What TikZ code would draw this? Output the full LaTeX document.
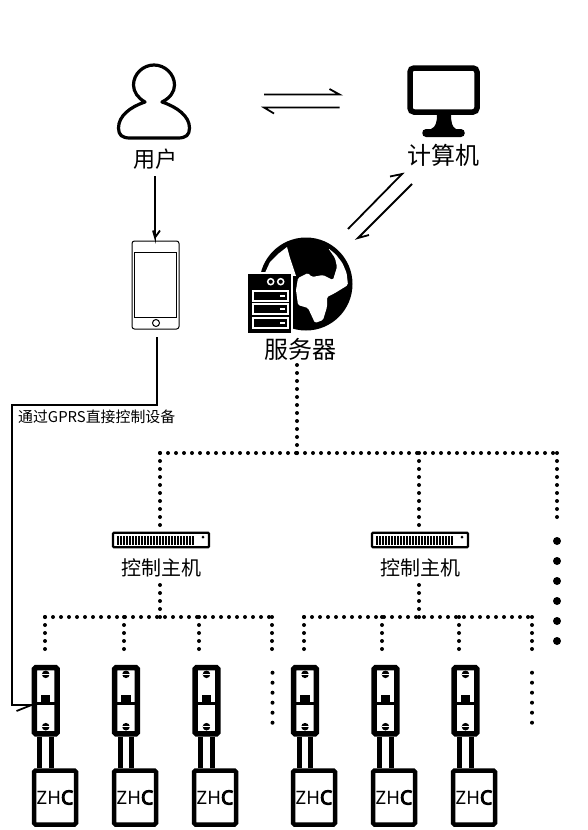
\documentclass[tikz,border=0pt]{standalone}
\usepackage{fontspec}
\setmainfont{Noto Sans CJK SC}
\newfontfamily\zhcfont{Noto Sans}
\newfontfamily\zhcbold[FakeBold=5]{Noto Sans}
\tikzset{
  lbl/.style={inner sep=0pt,font=\fontsize{#1}{#1}\selectfont},
  dots/.style={line width=4pt,line cap=round,dash pattern=on 0pt off 8pt},
  sparse/.style={line width=4pt,line cap=round,dash pattern=on 0pt off 10pt},
  link/.style={line width=1.8pt,black},
  breaker/.style={draw,line width=5.5pt,rounded corners=1.5pt,minimum width=22.8pt,minimum height=66.2pt,inner sep=0pt},
  zhcbox/.style={draw,line width=4.5pt,rounded corners=1.5pt,minimum width=42pt,minimum height=54pt,inner sep=0pt,font=\zhcfont\fontsize{18.5}{18.5}\selectfont},
  wire/.style={line width=5pt},
  chassis/.style={draw,line width=2.4pt,rounded corners=1pt,minimum width=96pt,minimum height=14.5pt,inner sep=0pt},
}
\newcommand{\unitat}[3]{%
  \node[breaker] (br#3) at (#1,700.8) {};
  \node[zhcbox] (zh#3) at (#2,797.5) {ZH{\zhcbold\fontsize{19.5}{19.5}\selectfont C}};
  \draw[wire] ([xshift=-5.8pt]br#3.south) -- ([xshift=-5.8pt]br#3.south |- zh#3.north);
  \draw[wire] ([xshift=5.8pt]br#3.south) -- ([xshift=5.8pt]br#3.south |- zh#3.north);
  \fill (#1,674.3) circle[radius=3.8pt];
  \fill (#1,726.7) circle[radius=3.8pt];
  \fill[white] (#1-4,673.9) rectangle (#1+4,674.8);
  \fill[white] (#1-4,726.3) rectangle (#1+4,727.2);
  \fill (#1-4.6,695) rectangle (#1+4.6,702.5);
  \fill (#1-9,702) rectangle (#1+9,705);
}
\newcommand{\hostat}[2]{%
  \node[chassis] (host#2) at (#1,540) {};
  \foreach \k in {0,...,25} {\fill (#1-44.5+\k*3,535.5) rectangle ++(2.1,9);}
  \fill (#1+42,537) circle[radius=1.5pt];
  \node[lbl=20] (hostlbl#2) at (#1,568) {控制主机};
}
\begin{document}
\begin{tikzpicture}[x=1pt,y=-1pt]
\useasboundingbox (0,0) rectangle (587,830);
\fill[white] (0,0) rectangle (587,830);

% user
\draw[line width=3.2pt,line join=round] (145,102) .. controls (130,107) and (118.5,116) .. (118.5,128)
  .. controls (118.5,135) and (122,138) .. (130,138) -- (178,138)
  .. controls (186,138) and (189.5,135) .. (189.5,128)
  .. controls (189.5,116) and (177,107) .. (162,102)
  .. controls (170,98) and (174.5,92) .. (174.5,85)
  .. controls (174.5,74) and (165,65) .. (154,65)
  .. controls (143,65) and (133.5,74) .. (133.5,85)
  .. controls (133.5,92) and (138,98) .. (145,102) -- cycle;
\node[lbl=22] (userlbl) at (155,159) {用户};

% monitor
\draw[line width=5.5pt,rounded corners=4pt] (410,68) rectangle (477,112);
\fill (437,114) -- (451,114) .. controls (451,122) and (452,127) .. (456,129) -- (461,129)
  .. controls (466,129) and (466,137) .. (461,137) -- (426,137)
  .. controls (421,137) and (421,129) .. (426,129) -- (431,129)
  .. controls (436,127) and (437,122) .. (437,114) -- cycle;
\node[lbl=24] (pclbl) at (443.5,155) {计算机};

% harpoons user/computer
\coordinate (h1a) at (264,94.5); \coordinate (h1b) at (339.5,94.5);
\coordinate (h2a) at (339.5,107.5); \coordinate (h2b) at (264,107.5);
\draw[link] (h1a) -- (h1b) -- ++(-10,-5.5);
\draw[link] (h2a) -- (h2b) -- ++(10,6);

% harpoons computer/server
\coordinate (d1a) at (348,229); \coordinate (d1b) at (402,174);
\coordinate (d2a) at (412,184); \coordinate (d2b) at (358,238);
\draw[link] (d1a) -- (d1b) -- ++(-12,2.5);
\draw[link] (d2a) -- (d2b) -- ++(11,-3);

% user to phone
\node[draw,line width=1pt,rounded corners=2.5pt,minimum width=47pt,minimum height=88pt,inner sep=0pt] (phone) at (155.5,285) {};
\draw[line width=1pt] (134.5,252) rectangle (176.5,317);
\draw[line width=1pt] (156,323) circle[radius=3.5pt];
\coordinate (uend) at (155,176);
\draw[link] (uend) -- (155,237.5) -- ++(-2,-7) (155,237.5) -- ++(5,-7);

% globe
\fill (306,284) circle[radius=46.5pt];
\fill[white,rounded corners=1.5pt] (298,278) -- (308,273) -- (312,277) -- (323,275) -- (333,280) -- (337,267) -- (335,258) -- (328,248)
  -- (335.7,254.3) -- (342.4,263) -- (346.6,273) -- (348,285) -- (335,293) -- (327,297) -- (327,307) -- (323,320) -- (315,323) -- (308,308) -- (298,305) -- (296,290) -- cycle;
\fill[white] (264,275) -- (270,262) -- (278,254) -- (287,247) -- (290,258) -- (296,276) -- cycle;
% server
\fill[draw=white,line width=2.5pt] (247,273) rectangle (292,334.5);
\foreach \cx in {270.7,280.7} {\draw[white,line width=1.5pt] (\cx,281.7) circle[radius=3pt];}
\foreach \by/\ey in {291/300.7,304.3/314,318.3/327.7} {
  \draw[white,line width=2pt] (252.5,\by) rectangle (287.5,\ey);
  \fill[white] (279.5,{(\by+\ey)/2-0.8}) rectangle (284.5,{(\by+\ey)/2+0.8});
}
\node[lbl=24] (srvlbl) at (300,349) {服务器};

% control hosts
\hostat{161}{A}
\hostat{420}{B}

% dotted network
\coordinate (srvdot) at (297,365);
\coordinate (bus) at (297,453);
\coordinate (busL) at (160,453);
\coordinate (busM) at (419,453);
\coordinate (busR) at (557,453);
\draw[dots] (srvdot) -- (bus);
\draw[dots] (busL) -- (bus) (bus) -- (busR);
\draw[dots] (busL) -- (160,525);
\draw[dots] (busM) -- (419,525);
\draw[dots] (busR) -- (557,520);
\foreach \yy in {541,561,581,601,621,641} {\fill (557,\yy) circle[radius=4pt];}

\coordinate (lbusA) at (160,617);
\coordinate (lbusB) at (419,617);
\draw[dots] (160,585) -- (lbusA);
\draw[dots] (419,585) -- (lbusB);
\draw[dots] (45,617) -- (272,617);
\draw[dots] (304,617) -- (532,617);
\foreach \xx in {45,124,199,272,304,382,459,532} {\draw[dots] (\xx,617) -- (\xx,650);}
\draw[sparse] (272.5,672.7) -- (272.5,723);
\draw[sparse] (532,672.7) -- (532,723);

% breakers and loads
\unitat{45.7}{55}{a}
\unitat{126}{135}{b}
\unitat{206.5}{215}{c}
\unitat{305}{314}{d}
\unitat{385.5}{394}{e}
\unitat{465.5}{474}{f}

% phone to breaker
\coordinate (pdrop) at (157,337);
\coordinate (kink) at (12,705);
\draw[link] (pdrop) -- (157,405) -- (12,405) -- (kink) -- (bra.west |- kink) -- ++(-15,6);
\node[lbl=14.9,anchor=west] (gprs) at (18,417) {通过GPRS直接控制设备};
\end{tikzpicture}
\end{document}
